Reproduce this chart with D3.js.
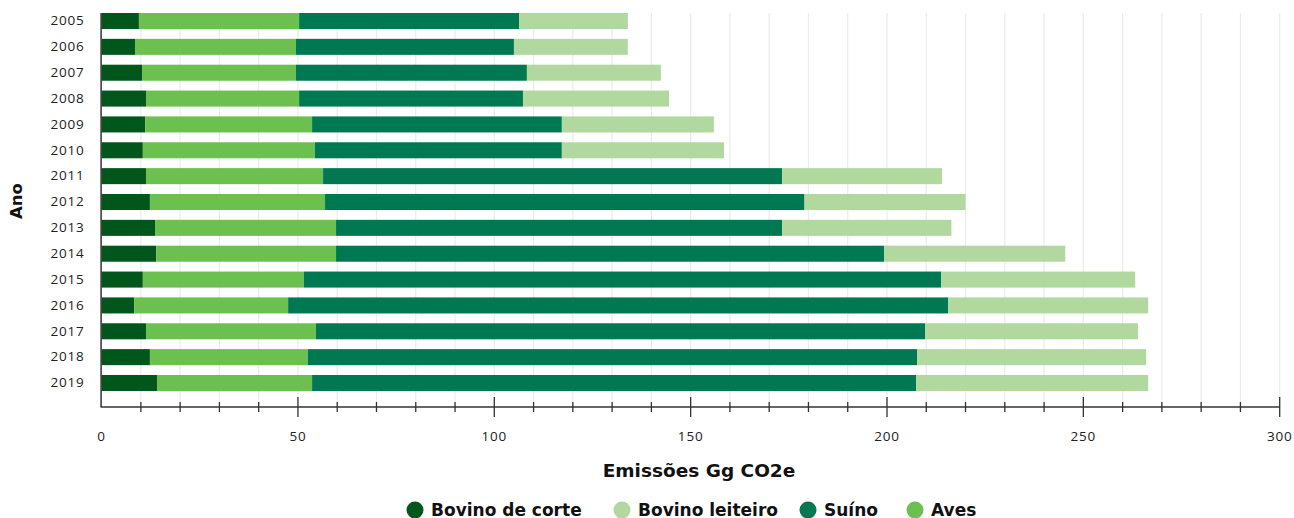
<!DOCTYPE html>
<html>
<head>
<meta charset="utf-8">
<script src="https://cdn.jsdelivr.net/npm/d3@7"></script>
<style>
  body { margin: 0; background: #fff; }
  svg { font-family: "Open Sans", sans-serif; }
  .bold { font-family: "DejaVu Sans", sans-serif; font-weight: bold; }
</style>
</head>
<body>
<svg width="1294" height="518"></svg>
<script>
const years = ['2005', '2006', '2007', '2008', '2009', '2010', '2011', '2012', '2013', '2014', '2015', '2016', '2017', '2018', '2019'];
const series = ['Bovino de corte', 'Aves', 'Suíno', 'Bovino leiteiro'];
const legendOrder = ['Bovino de corte', 'Bovino leiteiro', 'Suíno', 'Aves'];
const bovinoCorte = [9.5, 8.5, 10.3, 11.3, 11.1, 10.5, 11.3, 12.3, 13.6, 13.9, 10.5, 8.3, 11.3, 12.3, 14.1];
const aves = [40.8, 41.0, 39.2, 39.0, 42.5, 43.8, 45.1, 44.6, 46.1, 45.8, 41.0, 39.2, 43.3, 40.2, 39.5];
const suino = [56.0, 55.5, 58.8, 57.0, 63.6, 62.9, 116.9, 122.1, 113.6, 139.6, 162.3, 168.1, 155.1, 155.2, 153.8];
const bovinoLeiteiro = [27.7, 29.0, 34.1, 37.2, 38.7, 41.3, 40.7, 41.0, 43.1, 46.1, 49.4, 50.9, 54.2, 58.3, 59.1];
const xTicks = [0, 50, 100, 150, 200, 250, 300];

const colors = {
  'Bovino de corte': '#00561b',
  'Aves': '#6cc04f',
  'Suíno': '#007852',
  'Bovino leiteiro': '#b1d89e'
};

const table = years.map((y, i) => ({
  year: y,
  'Bovino de corte': bovinoCorte[i],
  'Aves': aves[i],
  'Suíno': suino[i],
  'Bovino leiteiro': bovinoLeiteiro[i]
}));

const plotLeft = 101.6, plotRight = 1279.7;
const plotTop = 13, axisY = 407;

const svg = d3.select('svg');

const xScale = d3.scaleLinear()
  .domain([0, 300])
  .range([plotLeft, plotRight]);

const step = (383 - 21) / 14;
const yScale = d3.scaleBand()
  .domain(years)
  .range([21 - step / 2, 383 + step / 2])
  .paddingInner(0.38)
  .paddingOuter(0.19);

// grid
svg.append('g')
  .selectAll('line')
  .data(d3.range(10, 301, 10))
  .enter()
  .append('line')
  .attr('x1', d => xScale(d))
  .attr('x2', d => xScale(d))
  .attr('y1', plotTop)
  .attr('y2', axisY)
  .attr('stroke', '#ebebeb')
  .attr('stroke-width', 1.2);

const stack = d3.stack().keys(series)(table);

svg.append('g')
  .selectAll('g')
  .data(stack)
  .enter()
  .append('g')
  .attr('fill', d => colors[d.key])
  .selectAll('rect')
  .data(d => d)
  .enter()
  .append('rect')
  .attr('x', d => xScale(d[0]))
  .attr('y', d => yScale(d.data.year))
  .attr('width', d => xScale(d[1]) - xScale(d[0]))
  .attr('height', yScale.bandwidth());

// y axis
const yAxis = svg.append('g')
  .attr('transform', `translate(${plotLeft}, 0)`)
  .call(d3.axisLeft(yScale).tickSize(0).tickPadding(17));
yAxis.select('.domain').remove();
yAxis.selectAll('text')
  .attr('font-size', 13.5)
  .attr('letter-spacing', 0.8)
  .attr('fill', '#222')
  .style('font-family', '"Open Sans", sans-serif');

svg.append('line')
  .attr('x1', plotLeft - 0.5).attr('x2', plotLeft - 0.5)
  .attr('y1', plotTop).attr('y2', axisY)
  .attr('stroke', '#333')
  .attr('stroke-width', 1.5);

// x axis
svg.append('line')
  .attr('x1', plotLeft - 1).attr('x2', plotRight)
  .attr('y1', axisY).attr('y2', axisY)
  .attr('stroke', '#333')
  .attr('stroke-width', 1.5);

svg.append('g')
  .selectAll('line')
  .data(d3.range(10, 301, 10))
  .enter()
  .append('line')
  .attr('x1', d => xScale(d))
  .attr('x2', d => xScale(d))
  .attr('y1', d => d % 50 === 0 ? axisY - 10 : axisY - 5)
  .attr('y2', d => d % 50 === 0 ? axisY + 10 : axisY + 5)
  .attr('stroke', '#333')
  .attr('stroke-width', 1.3);

svg.append('g')
  .selectAll('text')
  .data(xTicks)
  .enter()
  .append('text')
  .attr('x', d => xScale(d))
  .attr('y', 441)
  .attr('text-anchor', 'middle')
  .attr('font-size', 13.5)
  .attr('letter-spacing', 0.8)
  .attr('fill', '#222')
  .text(d => d);

svg.append('text')
  .attr('class', 'bold')
  .attr('x', 699)
  .attr('y', 477)
  .attr('text-anchor', 'middle')
  .attr('font-size', 18.5)
  .attr('fill', '#111')
  .text('Emissões Gg CO2e');

svg.append('text')
  .attr('class', 'bold')
  .attr('transform', 'translate(22, 201) rotate(-90)')
  .attr('text-anchor', 'middle')
  .attr('font-size', 16.5)
  .attr('fill', '#111')
  .text('Ano');

// legend
const legendX = [415, 622, 808, 915];
const legend = svg.append('g')
  .selectAll('g')
  .data(legendOrder)
  .enter()
  .append('g')
  .attr('transform', (d, i) => `translate(${legendX[i]}, 510)`);

legend.append('circle')
  .attr('r', 8.5)
  .attr('fill', d => colors[d]);

legend.append('text')
  .attr('class', 'bold')
  .attr('x', 16)
  .attr('y', 6)
  .attr('font-size', 17)
  .attr('fill', '#111')
  .text(d => d);
</script>
</body>
</html>
